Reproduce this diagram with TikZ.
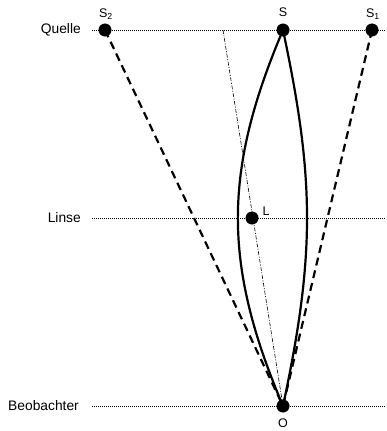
\documentclass[tikz,border=0pt]{standalone}
\usepackage{fontspec}
\setmainfont{Liberation Sans}
\usetikzlibrary{positioning}
\pgfdeclarelayer{edgelayer}
\pgfdeclarelayer{nodelayer}
\pgfsetlayers{edgelayer,nodelayer,main}
\tikzstyle{none}=[inner sep=0mm]
\tikzstyle{black dot}=[inner sep=0pt,minimum size=12.5pt,fill=black,draw=black,shape=circle]
\tikzstyle{level label}=[anchor=east,inner sep=0pt,font=\fontsize{13.8}{16}\selectfont]
\tikzstyle{point label}=[inner sep=0pt,font=\fontsize{12.5}{14}\selectfont]
\tikzstyle{level line}=[line width=0.7pt,dash pattern=on 1pt off 1pt]
\tikzstyle{ray}=[line width=2.2pt]
\tikzstyle{image ray}=[line width=2.2pt,dash pattern=on 8pt off 5pt]
\tikzstyle{axis ray}=[line width=0.6pt,dash pattern=on 4pt off 1.5pt on 1pt off 1.5pt]

\begin{document}
\begin{tikzpicture}[x=1pt,y=-1pt]
	\useasboundingbox (0,0) rectangle (386,431);
	\begin{pgfonlayer}{nodelayer}
		\node [style=black dot] (S2) at (105, 30) {};
		\node [style=black dot] (S) at (283, 30) {};
		\node [style=black dot] (S1) at (372, 30) {};
		\node [style=black dot] (L) at (252, 218) {};
		\node [style=black dot] (O) at (283, 406) {};
		\node [style=point label] (S2 label) at (106, 14) {S\textsubscript{2}};
		\node [style=point label] (S label) at (283, 12) {S};
		\node [style=point label] (S1 label) at (373, 14) {S\textsubscript{1}};
		\node [style=point label] (L label) at (266, 211) {L};
		\node [style=point label] (O label) at (283, 423) {O};
		\node [style=level label] (quelle) at (81, 30) {Quelle};
		\node [style=level label] (linse) at (81, 218) {Linse};
		\node [style=level label] (beobachter) at (79, 406) {Beobachter};
		\node [style=none] (ql) at (92, 30) {};
		\node [style=none] (qr) at (386, 30) {};
		\node [style=none] (ll) at (92, 218) {};
		\node [style=none] (lr) at (386, 218) {};
		\node [style=none] (bl) at (92, 406) {};
		\node [style=none] (br) at (386, 406) {};
		\node [style=none] (axis top) at (223, 30) {};
	\end{pgfonlayer}
	\begin{pgfonlayer}{edgelayer}
		\draw [style=level line] (ql.center) to (qr.center);
		\draw [style=level line] (ll.center) to (lr.center);
		\draw [style=level line] (bl.center) to (br.center);
		\draw [style=axis ray] (axis top.center) to (O.center);
		\draw [style=image ray] (S2.center) to (O.center);
		\draw [style=image ray] (S1.center) to (O.center);
		\draw [style=ray, out=-113, in=113, looseness=1.05] (S.center) to (O.center);
		\draw [style=ray, out=-78, in=78, looseness=1.05] (S.center) to (O.center);
	\end{pgfonlayer}
\end{tikzpicture}
\end{document}
